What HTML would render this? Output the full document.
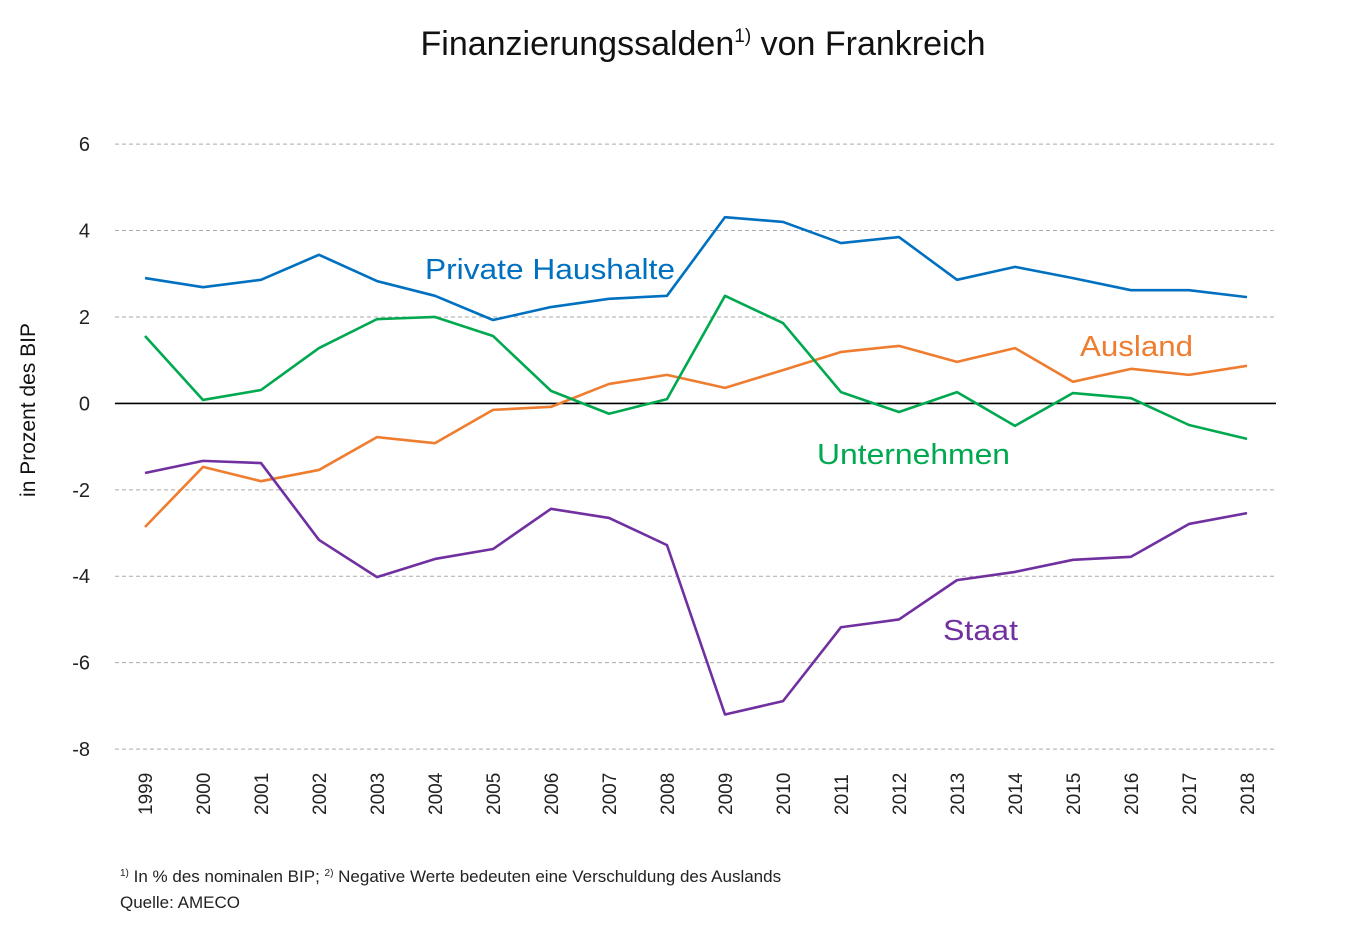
<!DOCTYPE html>
<html><head><meta charset="utf-8"><style>
body{margin:0;background:#fff;font-family:"Liberation Sans",sans-serif;}
svg text{font-family:"Liberation Sans",sans-serif;}
</style></head><body>
<svg id="chart" width="1347" height="928" xmlns="http://www.w3.org/2000/svg">
<text x="703" y="55" text-anchor="middle" font-size="34" fill="#111">Finanzierungssalden<tspan font-size="19" dy="-13">1)</tspan><tspan dy="13"> von Frankreich</tspan></text>
<text transform="translate(35,410) rotate(-90)" text-anchor="middle" font-size="21" fill="#111">in Prozent des BIP</text>
<g id="grid"></g><g id="lines"></g><g id="labels"></g>
<text x="120" y="882" font-size="17" fill="#222"><tspan font-size="10" dy="-6">1)</tspan><tspan dy="6"> In % des nominalen BIP; </tspan><tspan font-size="10" dy="-6">2)</tspan><tspan dy="6"> Negative Werte bedeuten eine Verschuldung des Auslands</tspan></text>
<text x="120" y="908" font-size="17" fill="#222">Quelle: AMECO</text>
</svg>
<script>
const years=[1999,2000,2001,2002,2003,2004,2005,2006,2007,2008,2009,2010,2011,2012,2013,2014,2015,2016,2017,2018];
const yTicks=[6,4,2,0,-2,-4,-6,-8];
const privateHaushalte=[2.90,2.69,2.86,3.44,2.83,2.49,1.93,2.23,2.42,2.49,4.31,4.20,3.71,3.85,2.86,3.16,2.90,2.62,2.62,2.46];
const unternehmen=[1.56,0.08,0.31,1.28,1.95,2.00,1.56,0.29,-0.24,0.10,2.49,1.86,0.26,-0.20,0.26,-0.52,0.24,0.12,-0.50,-0.82];
const ausland=[-2.86,-1.47,-1.80,-1.54,-0.78,-0.92,-0.15,-0.08,0.45,0.66,0.36,0.77,1.19,1.33,0.96,1.28,0.50,0.80,0.66,0.87];
const staat=[-1.61,-1.33,-1.38,-3.16,-4.02,-3.60,-3.37,-2.44,-2.65,-3.28,-7.20,-6.89,-5.18,-5.00,-4.09,-3.90,-3.62,-3.55,-2.79,-2.54];
const NS="http://www.w3.org/2000/svg";
const x=i=>145+i*(1102/19);
const y=v=>403.4-v*43.21;
function mk(tag,attrs,parent,txt){const e=document.createElementNS(NS,tag);for(const k in attrs)e.setAttribute(k,attrs[k]);if(txt!==undefined)e.textContent=txt;document.getElementById(parent).appendChild(e);return e;}
yTicks.forEach(t=>{
  const l=mk('line',{x1:115,x2:1276,y1:y(t),y2:y(t),stroke:t===0?'#000':'#aaa','stroke-width':t===0?1.6:1,'stroke-dasharray':t===0?'none':'4,3'},'grid');
  
  
  const tx=mk('text',{x:90,y:y(t)+7,'text-anchor':'end','font-size':20,fill:'#222'},'grid',String(t));
  
  
});
years.forEach((yr,i)=>{
  const tx=mk('text',{transform:`translate(${x(i)+7},815) rotate(-90)`,'font-size':19,fill:'#222'},'grid',String(yr));
  
  
});
function series(vals,color,name){
  const p=mk('polyline',{points:vals.map((v,i)=>x(i)+','+y(v)).join(' '),fill:'none',stroke:color,'stroke-width':2.6,'stroke-linejoin':'round'},'lines');
  
  
}
series(ausland,'#ee7d30','ausland-line');
series(unternehmen,'#00a94f','unternehmen-line');
series(privateHaushalte,'#0070c0','private-haushalte-line');
series(staat,'#7030a0','staat-line');
function lab(t,xx,yy,c,n,w){const e=mk('text',{x:xx,y:yy,'font-size':29,fill:c,textLength:w,lengthAdjust:'spacingAndGlyphs'},'labels',t);
  
  }
lab('Private Haushalte',425,279,'#0070c0','private-haushalte-label',250);
lab('Ausland',1080,356,'#ee7d30','ausland-label',113);
lab('Unternehmen',817,464,'#00a94f','unternehmen-label',193);
lab('Staat',943,640,'#7030a0','staat-label',75);
</script>
</body></html>
